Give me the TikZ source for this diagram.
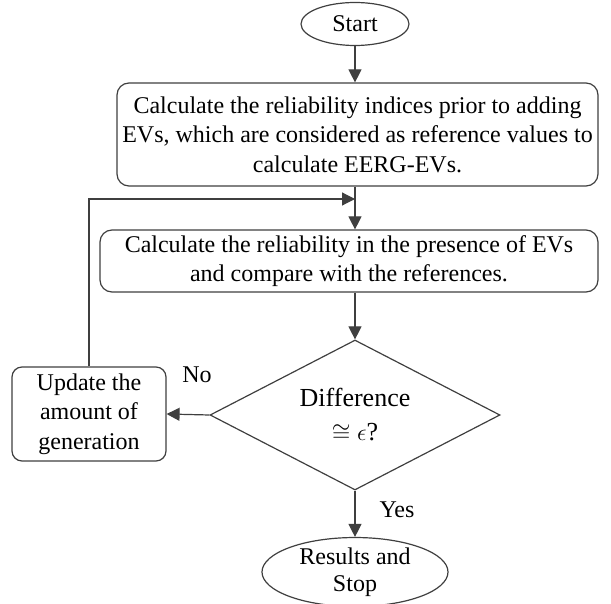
\documentclass[tikz,border=0pt]{standalone}
\usepackage{fontspec}
\setmainfont{Liberation Serif}
\usetikzlibrary{arrows.meta, shapes.geometric, calc}
\definecolor{lngray}{HTML}{3F3F3F}

\begin{document}
\begin{tikzpicture}[x=0.5pt, y=-0.5pt, >={Triangle[length=6.5pt, width=6.5pt]}, line width=0.6pt,
  terminal/.style={draw=lngray, ellipse, inner sep=0pt, align=center,
    font=\fontsize{12}{13.5}\selectfont},
  procbox/.style={draw=lngray, rounded corners=6pt, inner sep=0pt, align=center,
    font=\fontsize{12}{14.7}\selectfont},
  decision/.style={draw=lngray, diamond, inner sep=0pt},
  decitext/.style={align=center, inner sep=0pt, font=\fontsize{13}{17}\selectfont},
  flow/.style={draw=lngray, ->}]

\useasboundingbox (0,0) rectangle (611,604);

% Start
\node[terminal, minimum width=54pt, minimum height=21.5pt] (start) at (355,24) {Start};

% Reference values box
\node[procbox, minimum width=240.5pt, minimum height=51.5pt] (calcref) at (357.5,134.5)
  {Calculate the reliability indices prior to adding\\
   EVs, which are considered as reference values to\\
   calculate EERG-EVs.};

% Reliability with EVs box
\node[procbox, minimum width=249pt, minimum height=31pt] (calcev) at (349,261)
  {Calculate the reliability in the presence of EVs\\
   and compare with the references.};

% Decision
\node[decision, minimum width=145pt, minimum height=75pt] (diff) at (355,415) {};
\node[decitext] (difftext) at (diff.center) {Difference\\ $\cong \epsilon$?};

% Update box
\node[procbox, rounded corners=5pt, minimum width=77pt, minimum height=47pt] (update) at (89,414)
  {Update the\\ amount of\\ generation};

% End
\node[terminal, minimum width=93pt, minimum height=32pt] (results) at (355,572)
  {Results and\\ Stop};

% Loop join point
\coordinate (merge) at (355,199);

% Arrows
\draw[flow] (start.south) -- (start.south |- calcref.north);
\draw[flow] (diff.north |- calcref.south) -- (diff.north |- calcev.north);
\draw[flow] (diff.north |- calcev.south) -- (diff.north);
\draw[flow] (diff.west) -- (update.east);
\draw[flow] (update.north) |- (merge);
\draw[flow] (diff.south) -- (results.north);

% Labels
\node[font=\fontsize{12}{14}\selectfont] (nolbl) at (197,375) {No};
\node[font=\fontsize{12}{14}\selectfont] (yeslbl) at (397,510) {Yes};

\end{tikzpicture}
\end{document}
